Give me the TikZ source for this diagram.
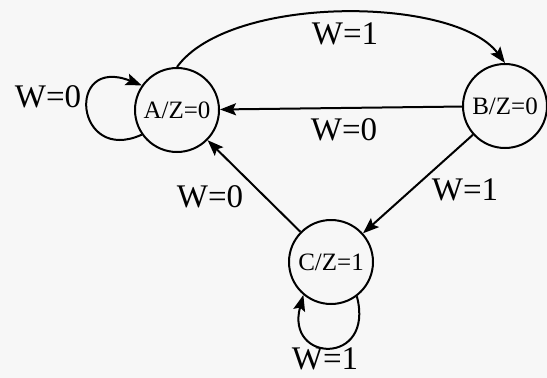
\documentclass[tikz,border=0pt]{standalone}
\usepackage{fontspec}
\setmainfont{Liberation Serif}
\usepackage{xcolor}
\usepackage{tikz}
\usetikzlibrary{arrows.meta}
\definecolor{paper}{RGB}{247, 247, 247}

\begin{document}
\begin{tikzpicture}[
    x=1pt, y=-1pt,
    state/.style={circle, draw, line width=2pt, fill=paper,
                  minimum size=84pt, inner sep=0pt,
                  font=\fontsize{25}{25}\selectfont},
    arr/.style={-{Stealth[length=16pt, width=12pt, inset=3pt]}, line width=2pt},
    lbl/.style={font=\fontsize{33}{33}\selectfont}
  ]

  % Page
  \fill[paper] (0,0) rectangle (547,378);
  \useasboundingbox (0,0) rectangle (547,378);

  % States
  \node[state] (A) at (177,110) {A/Z=0};
  \node[state] (B) at (505,106) {B/Z=0};
  \node[state] (C) at (331,262) {C/Z=1};

  % Transitions out of A
  \draw[arr] (A.north) .. controls (230,-6) and (455,-4) .. (B.north);
  \node[lbl] (w1top) at (345,34) {W=1};
  \draw[arr] (A.215) .. controls (75,165) and (65,55) .. (A.145);
  \node[lbl] (w0loop) at (48,97) {W=0};

  % Transitions out of B
  \draw[arr] (B) -- (A);
  \node[lbl] (w0mid) at (344,130) {W=0};
  \draw[arr] (B) -- (C);
  \node[lbl] (w1right) at (465,190) {W=1};

  % Transitions out of C
  \draw[arr] (C) -- (A);
  \node[lbl] (w0left) at (210,197) {W=0};
  \draw[arr] (C.-53) .. controls (375,366) and (285,363) .. (C.-130);
  \node[lbl] (w1loop) at (325,359) {W=1};

\end{tikzpicture}
\end{document}
